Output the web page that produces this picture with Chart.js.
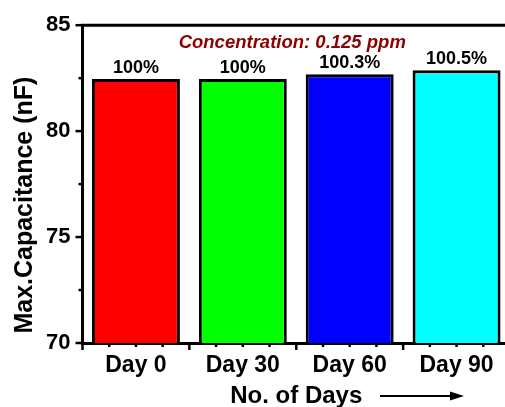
<!DOCTYPE html>
<html>
<head>
<meta charset="utf-8">
<script src="https://cdn.jsdelivr.net/npm/chart.js@4"></script>
<style>
  html, body { margin: 0; padding: 0; overflow: hidden; background: #fff; }
  #wrap { width: 505px; height: 407px; overflow: hidden; }
  canvas { display: block; }
</style>
</head>
<body>
<div id="wrap"><canvas id="c" width="515" height="407"></canvas></div>
<script>
const categories = ['Day 0', 'Day 30', 'Day 60', 'Day 90'];
const capacitance = [82.46, 82.46, 82.69, 82.87];
const percentLabels = ['100%', '100%', '100.3%', '100.5%'];
const barColors = ['#FF0000', '#00FF00', '#0000FF', '#00FFFF'];
const yTicks = [70, 75, 80, 85];
const yMinorTicks = [72.5, 77.5, 82.5];
const annotationText = 'Concentration: 0.125 ppm';
const yTitle = 'Max.Capacitance (nF)';
const xTitle = 'No. of Days';

const FONT = 'Arial, "Liberation Sans", sans-serif';

const decorations = {
  id: 'decorations',
  afterDraw(chart) {
    const ctx = chart.ctx;
    const ca = chart.chartArea;
    const xs = chart.scales.x, ys = chart.scales.y;
    ctx.save();
    ctx.strokeStyle = '#000';
    ctx.lineCap = 'butt';
    // top border
    ctx.lineWidth = 3;
    ctx.beginPath();
    ctx.moveTo(ca.left - 1.5, ca.top);
    ctx.lineTo(ca.right + 5, ca.top);
    ctx.stroke();
    // y ticks
    ctx.lineWidth = 2.5;
    yTicks.forEach(v => {
      const p = ys.getPixelForValue(v);
      ctx.beginPath(); ctx.moveTo(ca.left, p); ctx.lineTo(ca.left - 7, p); ctx.stroke();
    });
    yMinorTicks.forEach(v => {
      const p = ys.getPixelForValue(v);
      ctx.beginPath(); ctx.moveTo(ca.left, p); ctx.lineTo(ca.left - 4, p); ctx.stroke();
    });
    // x ticks (major at category boundaries, minor at quarters)
    for (let k = 0; k <= categories.length * 4; k++) {
      const v = -0.5 + k / 4;
      const p = xs.getPixelForValue(v);
      const len = (k % 4 === 0) ? 7 : 4;
      ctx.beginPath(); ctx.moveTo(p, ca.bottom); ctx.lineTo(p, ca.bottom + len); ctx.stroke();
    }
    // bar value labels
    const meta = chart.getDatasetMeta(0);
    ctx.fillStyle = '#000';
    ctx.font = 'bold 18px ' + FONT;
    ctx.textAlign = 'center';
    ctx.textBaseline = 'alphabetic';
    meta.data.forEach((bar, i) => {
      ctx.fillText(percentLabels[i], bar.x, bar.y - 6);
    });
    // annotation
    ctx.fillStyle = '#8B0000';
    ctx.font = 'italic bold 18.5px ' + FONT;
    ctx.fillText(annotationText, xs.getPixelForValue(1.5) - 4, ca.top + 23);
    // y title
    ctx.fillStyle = '#000';
    ctx.font = 'bold 25px ' + FONT;
    ctx.save();
    ctx.translate(32, (ca.top + ca.bottom) / 2 + 21);
    ctx.rotate(-Math.PI / 2);
    ctx.textAlign = 'center';
    ctx.textBaseline = 'alphabetic';
    ctx.fillText(yTitle, 0, 0);
    ctx.restore();
    // x title
    ctx.font = 'bold 24px ' + FONT;
    ctx.textAlign = 'center';
    ctx.fillText(xTitle, xs.getPixelForValue(1.5) - 0, 403);
    // arrow
    ctx.lineWidth = 2;
    ctx.beginPath(); ctx.moveTo(380, 396); ctx.lineTo(452, 396); ctx.stroke();
    ctx.beginPath();
    ctx.moveTo(464, 396); ctx.lineTo(450, 391.5); ctx.lineTo(450, 400.5); ctx.closePath();
    ctx.fill();
    ctx.restore();
  }
};

new Chart(document.getElementById('c'), {
  type: 'bar',
  data: {
    labels: categories,
    datasets: [{
      data: capacitance,
      backgroundColor: barColors,
      borderColor: '#000',
      borderWidth: 3,
      borderSkipped: false,
      barPercentage: 0.823,
      categoryPercentage: 1.0
    }]
  },
  options: {
    responsive: false,
    devicePixelRatio: 1,
    animation: false,
    layout: { padding: { top: 24, right: 5, left: 0, bottom: 0 } },
    plugins: { legend: { display: false }, tooltip: { enabled: false } },
    scales: {
      x: {
        type: 'category',
        offset: true,
        grid: { display: true, drawOnChartArea: false, drawTicks: false },
        border: { display: true, width: 3, color: '#000' },
        ticks: { color: '#000', font: { family: FONT, size: 23, weight: 'bold' }, padding: 9, maxRotation: 0, autoSkip: false },
        afterFit(s) { s.height = 64; }
      },
      y: {
        min: 70, max: 85,
        grid: { display: true, drawOnChartArea: false, drawTicks: false },
        border: { display: true, width: 3, color: '#000' },
        ticks: { stepSize: 5, color: '#000', font: { family: FONT, size: 22, weight: 'bold' }, padding: 12 },
        afterFit(s) { s.width = 82.5; }
      }
    }
  },
  plugins: [decorations]
});
</script>
</body>
</html>
